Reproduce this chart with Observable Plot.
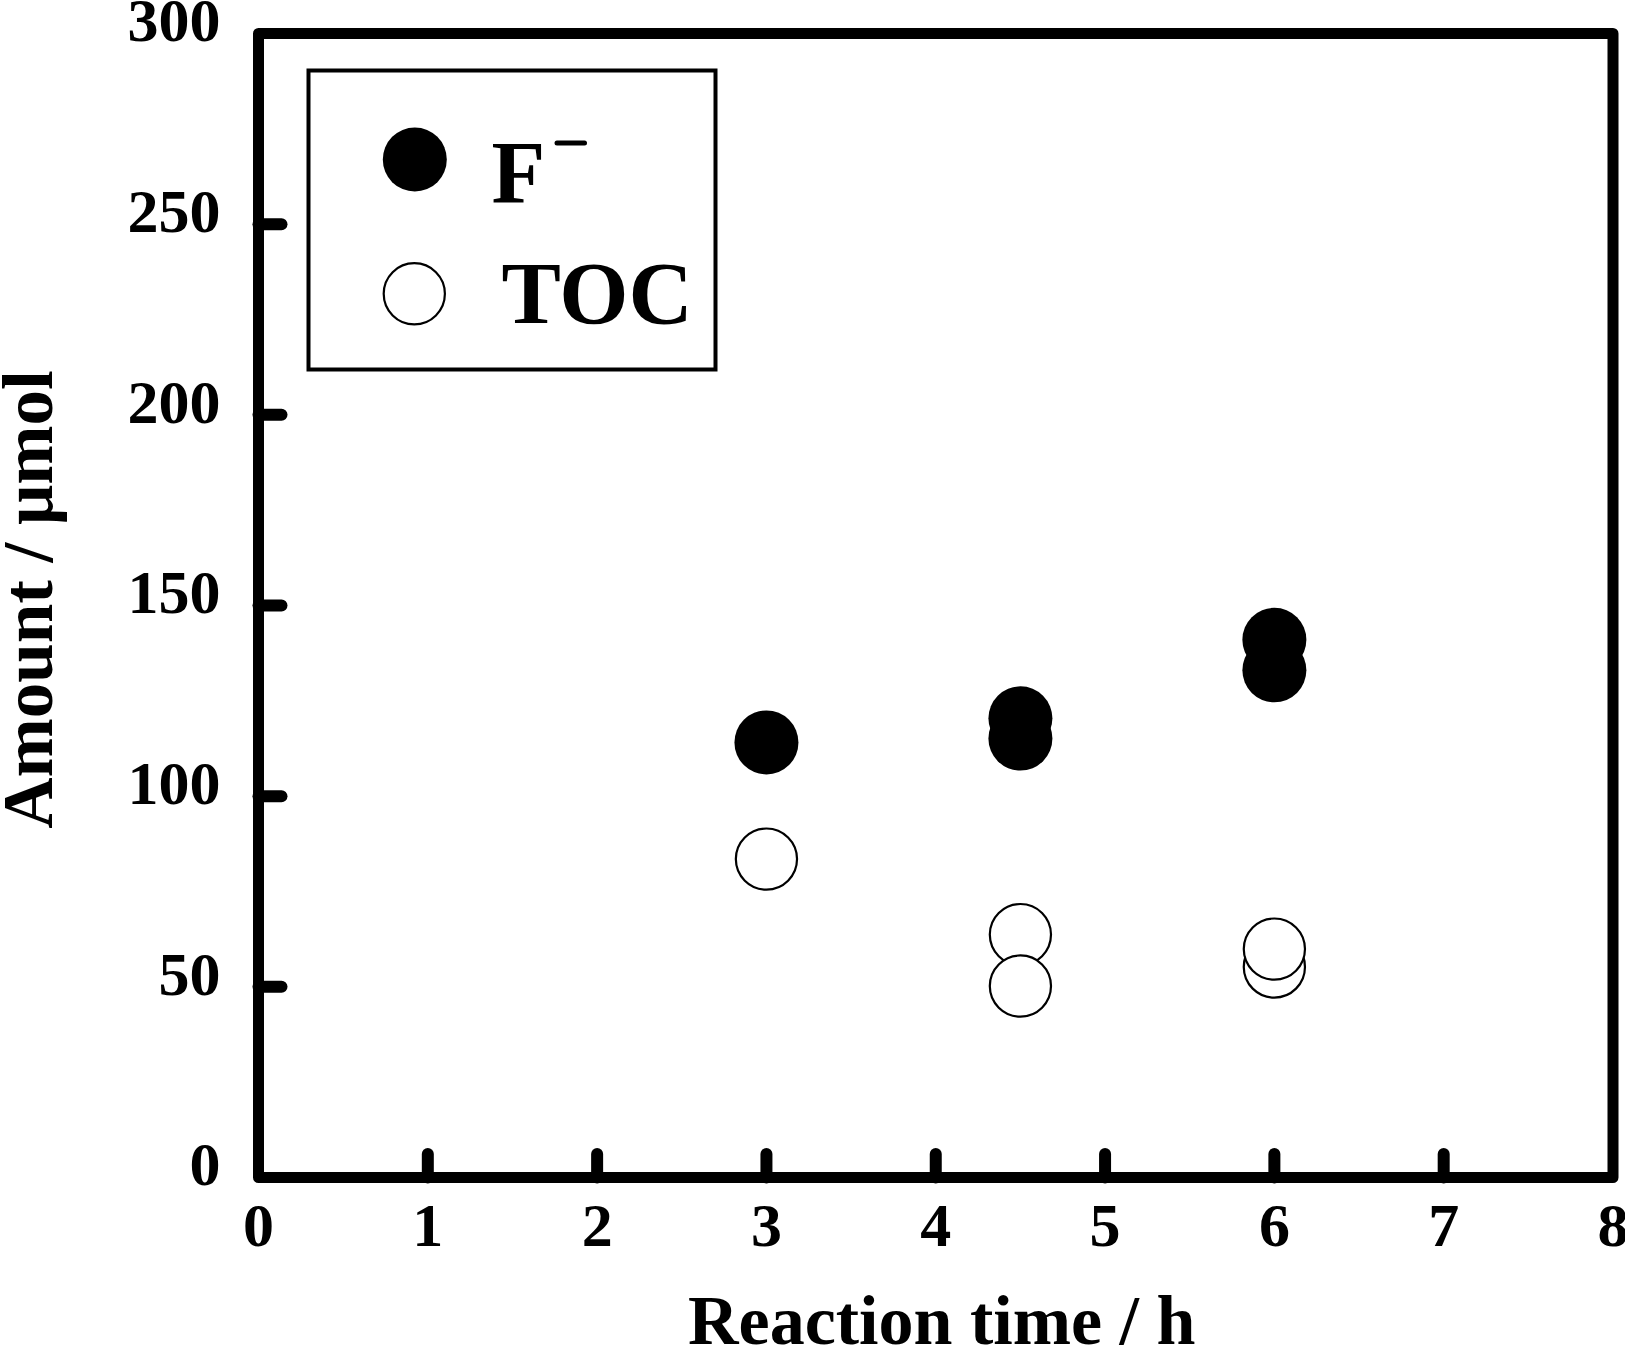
<!DOCTYPE html>
<html>
<head>
<meta charset="utf-8">
<script src="https://cdn.jsdelivr.net/npm/d3@7"></script>
<script src="https://cdn.jsdelivr.net/npm/@observablehq/plot@0.6"></script>
<style>
  html, body { margin: 0; padding: 0; background: #fff; }
  #chart svg { display: block; }
</style>
</head>
<body>
<div id="chart"></div>
<script>
// ---- data ----
const fluorideTime = [3, 4.5, 4.5, 6, 6];
const fluorideAmount = [114.1, 120.4, 115.1, 141.0, 133.0];
const tocTime = [3, 4.5, 4.5, 6, 6];
const tocAmount = [83.5, 63.7, 50.2, 55.2, 59.9];
const xTickValues = [0, 1, 2, 3, 4, 5, 6, 7, 8];
const yTickValues = [0, 50, 100, 150, 200, 250, 300];
const xInnerTicks = [1, 2, 3, 4, 5, 6, 7];
const yInnerTicks = [50, 100, 150, 200, 250];
const legendLabels = ["F", "TOC"];
const xTitle = "Reaction time / h";
const yTitle = "Amount / μmol";

const fluoride = fluorideTime.map((t, i) => ({t, v: fluorideAmount[i]}));
const tocData = tocTime.map((t, i) => ({t, v: tocAmount[i]}));

const FONT = "'Liberation Serif', 'Times New Roman', serif";
const tickShape = {draw(ctx, l) { ctx.moveTo(0, 0); ctx.lineTo(0, -l); }};

const chart = Plot.plot({
  width: 1625,
  height: 1347,
  marginLeft: 258,
  marginRight: 12.5,
  marginTop: 33,
  marginBottom: 170,
  style: {fontFamily: FONT, background: "#fff", color: "#000"},
  x: {domain: [0, 8]},
  y: {domain: [0, 300]},
  marks: [
    // tick labels
    Plot.axisX({ticks: xTickValues, tickSize: 0, tickPadding: 24, fontSize: 62, fontWeight: "bold", fontFamily: FONT, label: null, tickFormat: d => String(d)}),
    Plot.axisY({ticks: yTickValues, tickSize: 0, tickPadding: 38, fontSize: 62, fontWeight: "bold", fontFamily: FONT, label: null, dy: -12, tickFormat: d => String(d)}),
    // inward ticks
    Plot.vector(xInnerTicks, {x: d => d, frameAnchor: "bottom", length: 23.5, rotate: 0, anchor: "start", shape: tickShape, strokeWidth: 12, strokeLinecap: "round", stroke: "#000"}),
    Plot.vector(yInnerTicks, {y: d => d, frameAnchor: "left", length: 23, rotate: 90, anchor: "start", shape: tickShape, strokeWidth: 12, strokeLinecap: "round", stroke: "#000"}),
    // data
    Plot.dot(fluoride, {x: "t", y: "v", r: 32, fill: "#000", stroke: "none"}),
    Plot.dot(tocData, {x: "t", y: "v", r: 30.6, fill: "#fff", stroke: "#000", strokeWidth: 2.2}),
    // frame
    Plot.frame({stroke: "#000", strokeWidth: 11, strokeLinejoin: "round"}),
    // legend box
    Plot.frame({stroke: "#000", strokeWidth: 4, insetLeft: 50, insetRight: 897.5, insetTop: 37, insetBottom: 808}),
    Plot.dot([legendLabels[0]], {frameAnchor: "top-left", dx: 156.3, dy: 126, r: 32, fill: "#000", stroke: "none"}),
    Plot.dot([legendLabels[1]], {frameAnchor: "top-left", dx: 155.8, dy: 260.3, r: 30.6, fill: "#fff", stroke: "#000", strokeWidth: 2.2}),
    Plot.text([legendLabels[0]], {frameAnchor: "top-left", dx: 233, dy: 140, text: d => d, textAnchor: "start", lineAnchor: "middle", fontSize: 88, fontWeight: "bold", fontFamily: FONT, fill: "#000"}),
    Plot.vector([legendLabels[0]], {frameAnchor: "top-left", dx: 298.5, dy: 109.5, length: 27.5, rotate: 90, anchor: "start", shape: tickShape, strokeWidth: 5, stroke: "#000"}),
    Plot.text([legendLabels[1]], {frameAnchor: "top-left", dx: 243, dy: 261, text: d => d, textAnchor: "start", lineAnchor: "middle", fontSize: 89, fontWeight: "bold", fontFamily: FONT, fill: "#000"}),
    // axis titles
    Plot.text([xTitle], {frameAnchor: "bottom", dx: 6, dy: 144.5, text: d => d, textAnchor: "middle", lineAnchor: "middle", fontSize: 70, fontWeight: "bold", fontFamily: FONT, fill: "#000"}),
    Plot.text([yTitle], {frameAnchor: "left", dx: -229, dy: -6, rotate: -90, text: d => d, textAnchor: "middle", lineAnchor: "middle", fontSize: 71, fontWeight: "bold", fontFamily: FONT, fill: "#000"})
  ]
});
document.getElementById("chart").appendChild(chart);
</script>
</body>
</html>
